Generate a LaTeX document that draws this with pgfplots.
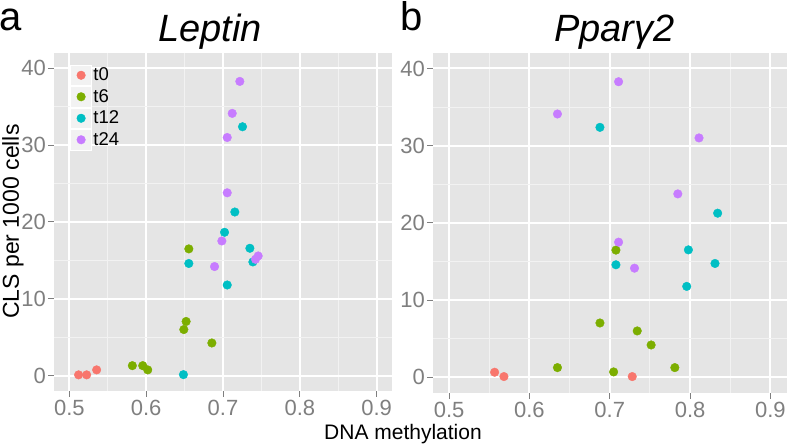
\documentclass[border=0pt]{standalone}
\usepackage{fontspec}
\setmainfont{Liberation Sans}
\usepackage{pgfplots}
\pgfplotsset{compat=1.18}
\definecolor{cA}{HTML}{F8766D}
\definecolor{cB}{HTML}{7CAE00}
\definecolor{cC}{HTML}{00BFC4}
\definecolor{cD}{HTML}{C77CFF}
\definecolor{ggbg}{HTML}{E5E5E5}
\definecolor{ggminor}{HTML}{F2F2F2}
\definecolor{ggtext}{HTML}{7F7F7F}
\pgfplotsset{
  ggbase/.style={
    scale only axis,
    xmin=0.48, xmax=0.92, ymin=-2, ymax=42,
    xtick={0.5,0.6,0.7,0.8,0.9}, ytick={0,10,20,30,40},
    minor xtick={0.55,0.65,0.75,0.85}, minor ytick={5,15,25,35},
    grid=both,
    major grid style={white, line width=2pt},
    minor grid style={ggminor, line width=1pt},
    axis background/.style={fill=ggbg},
    axis line style={draw=none},
    tick align=outside, tick pos=left,
    major tick length=6pt, minor tick length=0pt,
    tick style={ggtext, line width=1pt},
    /pgf/number format/assume math mode=true,
    /pgf/number format/fixed,
    xticklabel style={font=\fontsize{22}{22}\selectfont, text=ggtext, inner sep=0pt, yshift=-3pt},
    yticklabel style={font=\fontsize{22}{22}\selectfont, text=ggtext, inner sep=0pt, xshift=-2pt},
  },
  ggpt/.style={only marks, mark=*, mark size=4.3pt, mark options={draw=none, fill=#1}, color=#1},
  ggkey/.style={
    legend image code/.code={
      \draw[white, line width=1pt, fill=ggminor] (0pt,-10.25pt) rectangle (20.5pt,10.25pt);
      \draw[mark repeat=2,mark phase=2,##1] plot coordinates {(0pt,0pt) (10.25pt,0pt) (20.5pt,0pt)};
    }
  }
}
\begin{document}
\begin{tikzpicture}
\useasboundingbox (0pt,0pt) rectangle (787pt,447pt);
% Panel a
\begin{axis}[ggbase, ggkey,
  at={(54pt,56pt)}, anchor=south west, width=338pt, height=338pt,
  legend style={at={(axis cs:0.5013,40.5)}, anchor=north west, draw=none, fill=none,
    inner sep=0pt, outer sep=0pt, row sep=0pt, column sep=0pt,
    font=\fontsize{18.5}{18.5}\selectfont, nodes={inner xsep=1.5pt, inner ysep=0pt}},
  legend cell align=left]
\addplot[ggpt=cA] coordinates {(0.512,0.1) (0.5225,0.1) (0.5355,0.75)};
\addplot[ggpt=cB] coordinates {(0.582,1.3) (0.5955,1.3) (0.602,0.75) (0.649,6.0) (0.652,7.05) (0.6855,4.25) (0.6555,16.5)};
\addplot[ggpt=cC] coordinates {(0.6485,0.13) (0.6555,14.6) (0.7055,11.8) (0.702,18.66) (0.7154,21.3) (0.735,16.58) (0.7389,14.8) (0.7254,32.4)};
\addplot[ggpt=cD] coordinates {(0.7219,38.3) (0.712,34.14) (0.7055,31.0) (0.7055,23.8) (0.6985,17.53) (0.689,14.2) (0.7423,15.15) (0.7458,15.58)};
\legend{t0,t6,t12,t24}
\end{axis}
% Panel b
\begin{axis}[ggbase,
  at={(433pt,54.3pt)}, anchor=south west, width=353.5pt, height=339.7pt]
\addplot[ggpt=cA] coordinates {(0.5567,0.65) (0.5683,0.09) (0.728,0.09)};
\addplot[ggpt=cB] coordinates {(0.6349,1.25) (0.7048,0.69) (0.6878,7.03) (0.7342,6.0) (0.7515,4.18) (0.781,1.25) (0.7077,16.47)};
\addplot[ggpt=cC] coordinates {(0.6878,32.37) (0.8343,21.25) (0.7979,16.5) (0.831,14.74) (0.7077,14.57) (0.7958,11.77)};
\addplot[ggpt=cD] coordinates {(0.711,38.28) (0.6349,34.1) (0.8111,31.0) (0.7847,23.75) (0.711,17.5) (0.7308,14.13)};
\end{axis}
% Titles and labels
\node[anchor=base west, inner sep=0pt, font=\fontsize{40}{40}\selectfont] at (-1pt,416.5pt) {a};
\node[anchor=base west, inner sep=0pt, font=\fontsize{40}{40}\selectfont] at (400.5pt,416.5pt) {b};
\node[anchor=base, inner sep=0pt, font=\fontsize{38}{38}\selectfont\itshape] at (210pt,405.3pt) {Leptin};
\node[anchor=base, inner sep=0pt, font=\fontsize{38}{38}\selectfont\itshape] at (614.5pt,405.3pt) {Pparγ2};
\node[rotate=90, anchor=base, inner sep=0pt, font=\fontsize{23}{23}\selectfont] at (19pt,225.4pt) {CLS per 1000 cells};
\node[anchor=base, inner sep=0pt, font=\fontsize{21}{21}\selectfont] at (403pt,7pt) {DNA methylation};
\end{tikzpicture}
\end{document}
